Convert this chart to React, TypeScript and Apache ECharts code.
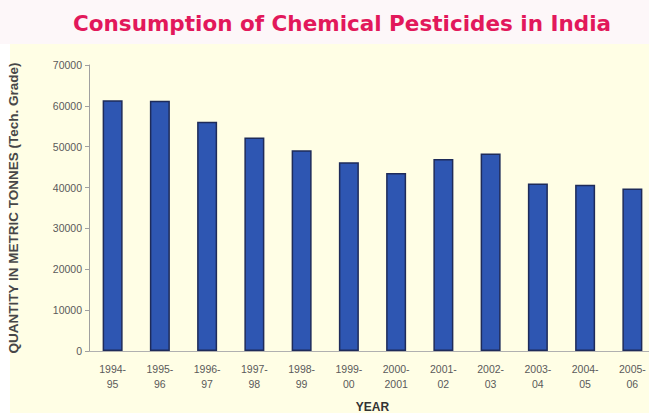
import React, { useEffect, useRef } from "react";
import * as echarts from "echarts";

// Consumption of chemical pesticides (technical grade), metric tonnes
const years = [
  "1994-\n95", "1995-\n96", "1996-\n97", "1997-\n98", "1998-\n99", "1999-\n00",
  "2000-\n2001", "2001-\n02", "2002-\n03", "2003-\n04", "2004-\n05", "2005-\n06",
];
const consumption = [61357, 61260, 56114, 52239, 49157, 46195, 43584, 47020, 48350, 41020, 40672, 39773];
const yTicks = { min: 0, max: 70000, interval: 10000 };

export default function App() {
  const ref = useRef<HTMLDivElement>(null);

  useEffect(() => {
    if (!ref.current) return;
    const chart = echarts.init(ref.current, undefined, { renderer: "svg" });
    chart.setOption({
      animation: false,
      backgroundColor: "#ffffff",
      graphic: [
        { type: "rect", z: -10, silent: true, shape: { x: 0, y: 0, width: 649, height: 44 }, style: { fill: "#FDF7F9" } },
        { type: "rect", z: -10, silent: true, shape: { x: 10, y: 44, width: 639, height: 369 }, style: { fill: "#FFFEE5" } },
      ],
      title: {
        text: "Consumption of Chemical Pesticides in India",
        left: 337,
        textAlign: "center",
        top: 7,
        textStyle: {
          fontFamily: "DejaVu Sans",
          fontWeight: "bold",
          fontSize: 21.5,
          color: "#E2185B",
        },
      },
      grid: { left: 89, top: 65, bottom: 62, width: 567, outerBoundsMode: "none" },
      xAxis: {
        type: "category",
        data: years,
        name: "YEAR",
        nameLocation: "middle",
        nameGap: 50,
        nameTextStyle: { fontFamily: "Liberation Sans", fontWeight: "bold", fontSize: 12, color: "#333" },
        axisLine: { lineStyle: { color: "#b0b0b0", width: 1 } },
        axisTick: { length: 4, lineStyle: { color: "#b0b0b0" } },
        axisLabel: {
          fontFamily: "Liberation Sans",
          fontSize: 10.5,
          color: "#5a5a5a",
          lineHeight: 15,
          margin: 10,
          interval: 0,
        },
      },
      yAxis: {
        type: "value",
        min: yTicks.min,
        max: yTicks.max,
        interval: yTicks.interval,
        name: "QUANTITY IN METRIC TONNES (Tech. Grade)",
        nameLocation: "middle",
        nameRotate: 90,
        nameGap: 69,
        nameTextStyle: { fontFamily: "Liberation Sans", fontWeight: "bold", fontSize: 13.5, color: "#474747" },
        splitLine: { show: false },
        axisLine: { show: true, lineStyle: { color: "#a0a0a0", width: 1 } },
        axisTick: { show: true, length: 4, lineStyle: { color: "#a0a0a0" } },
        axisLabel: {
          fontFamily: "Liberation Sans",
          fontSize: 10.5,
          color: "#5a5a5a",
          margin: 7,
          formatter: (v: number) => String(v),
        },
      },
      series: [
        {
          type: "bar",
          data: consumption,
          barWidth: 20,
          itemStyle: { color: "#2E56B2", borderColor: "#1E2B5A", borderWidth: 1.5 },
        },
      ],
    });
    return () => chart.dispose();
  }, []);

  return (
    <div
      ref={ref}
      style={{ position: "fixed", left: 0, top: 0, width: 649, height: 413 }}
    />
  );
}
